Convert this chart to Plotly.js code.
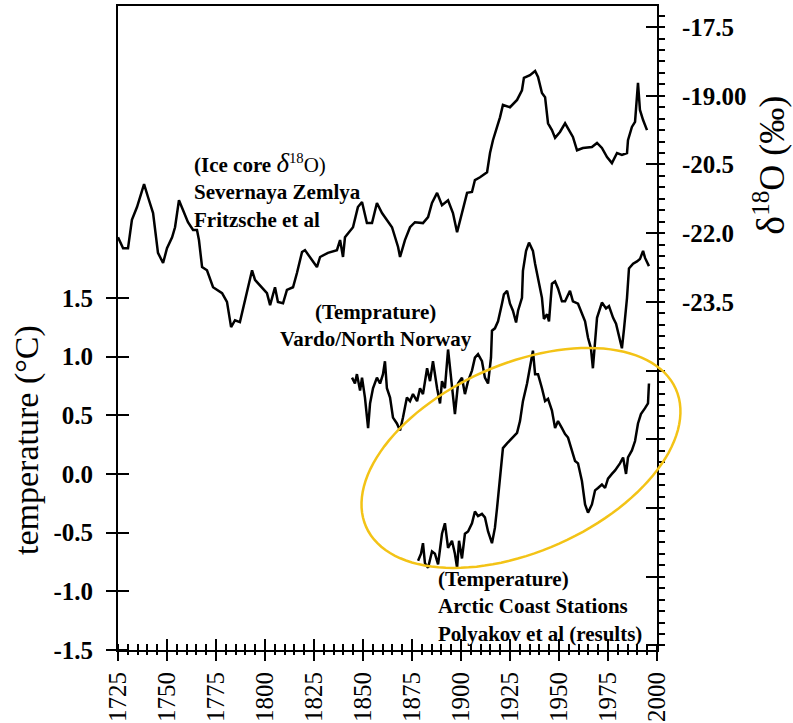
<!DOCTYPE html>
<html><head><meta charset="utf-8">
<script src="https://cdn.plot.ly/plotly-3.0.1.min.js"></script>
<style>html,body{margin:0;padding:0;background:#fff}</style>
</head><body><div id="chart" style="width:793px;height:723px"></div>
<script>
// ---- Ice core δ18O, Severnaya Zemlya (right axis, ‰) ----
const iceYears = [1725.0,1727.6,1730.1,1732.1,1734.7,1736.2,1738.3,1740.3,1742.9,1745.4,1748.0,1750.0,1752.6,1754.1,1756.1,1758.2,1760.7,1763.3,1765.3,1766.3,1767.9,1770.4,1773.5,1778.1,1780.6,1782.7,1784.7,1787.2,1790.8,1793.4,1794.9,1797.4,1801.0,1802.6,1805.1,1806.6,1809.2,1811.2,1814.3,1816.3,1818.9,1820.4,1824.0,1826.5,1828.1,1832.1,1836.7,1838.3,1839.8,1840.8,1844.9,1847.4,1849.5,1852.0,1854.6,1857.1,1859.7,1862.2,1864.8,1867.9,1868.9,1871.4,1874.0,1876.5,1880.6,1883.2,1885.2,1887.8,1890.3,1893.4,1895.9,1898.0,1900.5,1903.1,1905.6,1907.1,1909.7,1913.3,1914.8,1916.3,1918.4,1919.9,1921.4,1925.0,1928.6,1931.1,1932.1,1935.2,1937.8,1939.3,1941.3,1942.9,1944.4,1946.4,1948.0,1950.5,1953.1,1955.6,1957.1,1959.2,1962.2,1966.8,1969.4,1971.9,1974.5,1977.0,1979.6,1982.1,1984.7,1985.2,1987.2,1988.8,1990.3,1991.3,1992.9,1994.9];
const iceD18O = [-22.09,-22.33,-22.33,-21.71,-21.43,-21.21,-20.93,-21.21,-21.56,-22.43,-22.65,-22.33,-22.09,-21.87,-21.28,-21.50,-21.76,-21.93,-21.93,-22.15,-22.74,-22.81,-23.18,-23.31,-23.50,-24.05,-23.90,-23.94,-23.24,-22.81,-23.02,-23.13,-23.31,-23.57,-23.18,-23.50,-23.53,-23.24,-23.18,-22.87,-22.41,-22.37,-22.59,-22.74,-22.52,-22.43,-22.37,-22.15,-22.52,-22.09,-21.87,-21.43,-21.32,-21.78,-21.78,-21.34,-21.56,-21.71,-21.87,-22.30,-22.52,-22.15,-21.87,-21.76,-21.78,-21.65,-21.34,-21.12,-21.39,-21.28,-21.56,-21.98,-21.56,-21.12,-21.10,-20.84,-20.78,-20.67,-20.25,-19.97,-19.68,-19.47,-19.20,-19.25,-19.09,-18.88,-18.61,-18.55,-18.46,-18.59,-18.94,-19.03,-19.60,-19.75,-19.92,-19.79,-19.60,-19.81,-19.90,-20.19,-20.14,-20.12,-20.03,-20.14,-20.34,-20.47,-20.25,-20.29,-20.25,-19.97,-19.68,-19.57,-18.72,-19.31,-19.53,-19.75];

// ---- Temperature, Vardo / North Norway (left axis, °C) ----
const vardoYears = [1844.4,1845.9,1846.9,1848.5,1849.5,1851.0,1852.6,1853.6,1855.1,1857.1,1858.7,1860.2,1861.2,1862.2,1863.8,1865.3,1867.3,1868.9,1870.4,1872.4,1874.0,1875.5,1877.6,1879.1,1880.6,1882.7,1884.2,1885.7,1887.8,1889.3,1890.3,1891.8,1893.4,1895.4,1896.9,1898.5,1900.5,1902.0,1903.6,1905.6,1907.1,1908.7,1910.7,1912.2,1913.8,1915.3,1915.8,1917.3,1918.9,1920.9,1921.9,1923.5,1925.0,1926.5,1928.1,1929.1,1931.1,1931.6,1933.2,1934.7,1936.7,1937.8,1939.3,1941.3,1942.3,1943.9,1944.9,1946.4,1948.0,1949.5,1951.5,1953.1,1955.6,1957.1,1959.7,1961.7,1963.3,1964.8,1966.3,1967.3,1968.4,1969.4,1971.9,1974.0,1975.5,1977.6,1979.1,1980.6,1982.1,1983.2,1984.7,1985.7,1987.8,1989.8,1991.3,1992.9,1993.9,1995.9];
const vardoTemp = [0.82,0.77,0.85,0.71,0.82,0.65,0.39,0.60,0.73,0.82,0.77,0.85,0.96,0.73,0.65,0.48,0.43,0.37,0.48,0.65,0.62,0.68,0.62,0.73,0.68,0.90,0.79,0.96,0.73,0.60,0.79,0.73,1.06,0.73,0.51,0.77,0.82,0.68,0.79,0.88,0.99,1.02,0.96,0.82,0.77,0.99,1.22,1.24,1.30,1.45,1.53,1.56,1.45,1.39,1.29,1.39,1.50,1.73,1.90,1.97,1.90,1.79,1.67,1.50,1.32,1.36,1.30,1.62,1.64,1.58,1.47,1.47,1.56,1.47,1.45,1.36,1.30,1.16,1.07,0.90,1.16,1.33,1.46,1.41,1.43,1.33,1.28,1.16,1.07,1.24,1.50,1.75,1.79,1.81,1.83,1.90,1.84,1.77];

// ---- Temperature, Arctic Coast Stations (left axis, °C) ----
const arcticYears = [1878.1,1879.6,1880.6,1881.6,1883.2,1885.2,1886.7,1888.3,1890.3,1891.8,1893.4,1895.4,1896.9,1898.0,1899.0,1900.5,1902.0,1903.6,1905.6,1907.1,1908.7,1910.7,1912.2,1913.8,1915.8,1917.3,1918.4,1919.4,1919.9,1921.4,1923.5,1926.0,1928.6,1930.1,1931.6,1933.7,1935.2,1936.7,1937.8,1939.3,1941.3,1942.9,1944.4,1946.4,1948.0,1949.5,1951.5,1953.1,1954.6,1956.6,1958.2,1959.7,1961.7,1963.3,1964.8,1966.8,1968.4,1969.9,1971.9,1973.5,1975.0,1977.0,1978.6,1981.1,1982.7,1984.2,1985.2,1987.2,1988.8,1990.3,1991.8,1993.9,1995.4,1995.9];
const arcticTemp = [-0.74,-0.68,-0.59,-0.76,-0.80,-0.66,-0.68,-0.77,-0.51,-0.42,-0.63,-0.57,-0.68,-0.80,-0.57,-0.72,-0.51,-0.49,-0.42,-0.32,-0.36,-0.34,-0.37,-0.49,-0.59,-0.46,-0.29,-0.12,0.03,0.22,0.26,0.30,0.35,0.45,0.62,0.77,0.90,1.05,0.85,0.85,0.73,0.62,0.64,0.54,0.39,0.45,0.39,0.34,0.31,0.20,0.11,0.09,-0.06,-0.26,-0.33,-0.26,-0.14,-0.12,-0.09,-0.12,-0.04,0.00,0.03,0.09,0.14,0.00,0.14,0.20,0.28,0.43,0.51,0.56,0.60,0.77];

// ---- Axes ticks ----
const tempTicks = [-1.5,-1.0,-0.5,0.0,0.5,1.0,1.5];
const tempTickText = ['-1.5','-1.0','-0.5','0.0','0.5','1.0','1.5'];
const d18Ticks = [-17.5,-19.0,-20.5,-22.0,-23.5,-25.0,-26.5,-28.0,-29.5,-31.0];
const d18TickText = ['-17.5','-19.00','-20.5','-22.0','-23.5','','','','',''];

// ---- Layout constants ----
const W = 793, H = 723;
const M = {l:118, r:136, t:6, b:73, pad:0};
const plotW = W - M.l - M.r, plotH = H - M.t - M.b;
const xRange = [1725, 2000];
const tempRange = [-1.5, 3.986];
const d18Range = [-31.1, -17.04];
const FONT = 'Liberation Serif, Times New Roman, serif';

// ---- Highlight ellipse (center in data units, semi-axes in px, tilt in deg) ----
const ellCenterYear = 1930.6, ellCenterTemp = 0.136;
const ellSemiMajorPx = 169.5, ellSemiMinorPx = 93.8, ellTiltDeg = 24;
function ellipsePath() {
  const cx = (ellCenterYear - xRange[0]) / (xRange[1] - xRange[0]);
  const cy = (ellCenterTemp - tempRange[0]) / (tempRange[1] - tempRange[0]);
  const phi = ellTiltDeg * Math.PI / 180;
  let d = '';
  for (let i = 0; i <= 120; i++) {
    const t = i / 120 * 2 * Math.PI;
    const u = ellSemiMajorPx * Math.cos(t), v = ellSemiMinorPx * Math.sin(t);
    const dx = u * Math.cos(phi) - v * Math.sin(phi);
    const dy = u * Math.sin(phi) + v * Math.cos(phi);
    const px = cx + dx / plotW, py = cy + dy / plotH;
    d += (i === 0 ? 'M' : 'L') + px.toFixed(5) + ',' + py.toFixed(5);
  }
  return d + 'Z';
}

const lineStyle = {color:'#000', width:2.5};
const traces = [
  {x: iceYears, y: iceD18O, xaxis:'x', yaxis:'y2', mode:'lines', line: lineStyle, hoverinfo:'skip'},
  {x: vardoYears, y: vardoTemp, xaxis:'x2', yaxis:'y', mode:'lines', line: lineStyle, hoverinfo:'skip'},
  {x: arcticYears, y: arcticTemp, xaxis:'x', yaxis:'y', mode:'lines', line: lineStyle, hoverinfo:'skip'}
];

const common = {showgrid:false, zeroline:false, fixedrange:true};
const layout = {
  width: W, height: H, margin: M, showlegend: false,
  paper_bgcolor:'#fff', plot_bgcolor:'#fff',
  font: {family: FONT, color:'#000'},
  xaxis: Object.assign({}, common, {
    range: xRange, anchor:'y', tickmode:'linear', tick0:1725, dtick:25,
    ticks:'outside', ticklen:9, tickwidth:2, tickcolor:'#000',
    showline:true, linewidth:2, linecolor:'#000', mirror:true,
    tickangle:-90, tickfont:{family:FONT, size:25, color:'#000'}, ticklabelstandoff:1,
    minor:{tickmode:'linear', tick0:1725, dtick:5, ticks:'inside', ticklen:6, tickwidth:2, tickcolor:'#000'}
  }),
  xaxis2: Object.assign({}, common, {
    range: xRange, overlaying:'x', anchor:'y', side:'bottom', tickmode:'linear', tick0:1725, dtick:25,
    ticks:'inside', ticklen:11, tickwidth:2, tickcolor:'#000', showticklabels:false, showline:false,
    minor:{tickmode:'linear', tick0:1725, dtick:5, ticks:'outside', ticklen:4, tickwidth:2, tickcolor:'#000'}
  }),
  yaxis: Object.assign({}, common, {
    range: tempRange, anchor:'x', side:'left', tickmode:'array', tickvals: tempTicks, ticktext: tempTickText,
    ticks:'outside', ticklen:10, tickwidth:2, tickcolor:'#000',
    showline:true, linewidth:2, linecolor:'#000',
    tickfont:{family:FONT, size:25, color:'#000', weight:'bold'}, ticklabelstandoff:8,
    minor:{tickmode:'array', tickvals: tempTicks, ticks:'inside', ticklen:11, tickwidth:2, tickcolor:'#000'}
  }),
  yaxis2: Object.assign({}, common, {
    range: d18Range, overlaying:'y', anchor:'x', side:'right', tickmode:'array', tickvals: d18Ticks, ticktext: d18TickText,
    ticks:'inside', ticklen:11, tickwidth:2, tickcolor:'#000',
    showline:true, linewidth:2, linecolor:'#000',
    tickfont:{family:FONT, size:25, color:'#000', weight:'bold'}, ticklabelstandoff:18,
    minor:{tickmode:'linear', tick0:-17.5, dtick:0.25, ticks:'outside', ticklen:6, tickwidth:2, tickcolor:'#000'}
  }),
  shapes: [{type:'path', xref:'paper', yref:'paper', path: ellipsePath(), line:{color:'#F3C316', width:2.5}, fillcolor:'rgba(0,0,0,0)', layer:'above'}],
  annotations: [
    {xref:'paper', yref:'paper', x:-0.169, y:0.326, xanchor:'center', yanchor:'middle', textangle:-90, showarrow:false,
     text:'temperature (°C)', font:{family:FONT, size:34, color:'#000'}},
    {xref:'paper', yref:'paper', x:1.209, y:0.753, xanchor:'center', yanchor:'middle', textangle:-90, showarrow:false,
     text:'<span style="font-size:40px">δ</span><sup>18</sup>O (‰)', font:{family:FONT, size:36, color:'#000'}},
    {xref:'x', yref:'y', x:1762.8, y:2.79, xanchor:'left', yanchor:'top', align:'left', showarrow:false,
     text:'<b>(Ice core</b> <span style="font-size:27px"><i>δ</i></span><sup>18</sup>O)<br><b>Severnaya Zemlya</b><br><b>Fritzsche et al</b>',
     font:{family:FONT, size:21, color:'#000'}},
    {xref:'x', yref:'y', x:1856.6, y:1.50, xanchor:'center', yanchor:'top', align:'center', showarrow:false,
     text:'<b>(Temprature)</b><br><b>Vardo/North Norway</b>',
     font:{family:FONT, size:21, color:'#000'}},
    {xref:'x', yref:'y', x:1887.2, y:-0.775, xanchor:'left', yanchor:'top', align:'left', showarrow:false,
     text:'<b>(Temperature)</b><br><b>Arctic Coast Stations</b><br><b>Polyakov et al (results)</b>',
     font:{family:FONT, size:21, color:'#000'}}
  ]
};

Plotly.newPlot('chart', traces, layout, {staticPlot:true, displayModeBar:false});
</script>
</body></html>
